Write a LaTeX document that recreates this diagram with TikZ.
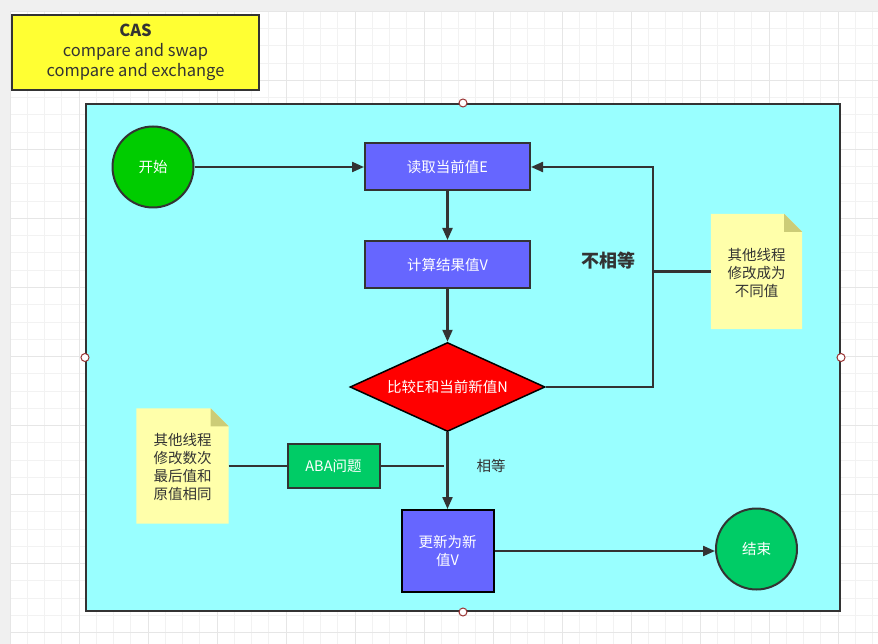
\documentclass[tikz,border=0pt]{standalone}
\usepackage{fontspec}
\setmainfont{Noto Sans CJK SC}
\usetikzlibrary{arrows.meta,shapes.geometric,calc}
\definecolor{outerbg}{HTML}{F0F0F0}
\definecolor{gridminor}{HTML}{F2F2F2}
\definecolor{gridmajor}{HTML}{E6E6E6}
\definecolor{edge}{HTML}{333333}
\definecolor{cyanbg}{HTML}{99FFFF}
\definecolor{bluebox}{HTML}{6666FF}
\definecolor{casyellow}{HTML}{FFFF33}
\definecolor{startgreen}{HTML}{00CC00}
\definecolor{abagreen}{HTML}{00CC66}
\definecolor{notefill}{HTML}{FFFFAA}
\definecolor{notefold}{HTML}{CCCC77}
\definecolor{handle}{HTML}{993333}
\begin{document}
\begin{tikzpicture}[x=1pt,y=-1pt,
  stepbox/.style={rectangle,draw=edge,line width=2pt,fill=bluebox,text=white,inner sep=0pt,font=\fontsize{14.5pt}{18pt}\selectfont,align=center},
  roundnode/.style={circle,draw=edge,line width=2pt,text=white,inner sep=0pt,minimum size=81pt,font=\fontsize{14.5pt}{18pt}\selectfont},
  notebox/.style={rectangle,inner sep=0pt,text=edge,align=center,font=\fontsize{14.5pt}{18pt}\selectfont},
  flow/.style={draw=edge,line width=2.2pt,-{Triangle[length=12pt,width=10pt]}},
  link/.style={draw=edge,line width=2.2pt},
  hdl/.style={circle,draw=handle,fill=white,line width=1pt,inner sep=0pt,minimum size=8pt}
]
\useasboundingbox (0,0) rectangle (878,644);
\fill[outerbg] (0,0) rectangle (878,644);
\fill[white] (10,12) rectangle (878,644);
\begin{scope}
\clip (10,12) rectangle (878,644);
\foreach \i in {0,...,50} {\draw[gridminor,line width=1pt] ({10+17.25*\i},12) -- ({10+17.25*\i},644);}
\foreach \j in {0,...,37} {\draw[gridminor,line width=1pt] (10,{11.5+17.25*\j}) -- (878,{11.5+17.25*\j});}
\foreach \i in {0,...,12} {\draw[gridmajor,line width=1pt] ({10+69*\i},12) -- ({10+69*\i},644);}
\foreach \j in {0,...,9} {\draw[gridmajor,line width=1pt] (10,{11.5+69*\j}) -- (878,{11.5+69*\j});}
\end{scope}

% CAS title box
\node[rectangle,draw=edge,line width=2pt,fill=casyellow,text=edge,minimum width=247pt,minimum height=75pt,inner sep=0pt,align=center,font=\fontsize{16.5pt}{20pt}\selectfont] (cas) at (135.5,52.5) {{\bfseries CAS}\\compare and swap\\compare and exchange};

% container
\node[rectangle,draw=edge,line width=2pt,fill=cyanbg,minimum width=754pt,minimum height=507pt,inner sep=0pt] (frame) at (463,357.5) {};
\node[hdl] (h1) at (frame.north) {};
\node[hdl] (h2) at (frame.south) {};
\node[hdl] (h3) at (frame.west) {};
\node[hdl] (h4) at (frame.east) {};

% nodes
\node[roundnode,fill=startgreen] (start) at (153,167) {开始};
\node[stepbox,minimum width=165pt,minimum height=47pt] (read) at (447.5,167) {读取当前值E};
\node[stepbox,minimum width=165pt,minimum height=47pt] (calc) at (447.5,264.5) {计算结果值V};
\node[diamond,aspect=2.19,draw=black,line width=1.5pt,fill=red,text=white,inner sep=0pt,minimum width=195pt,minimum height=89pt,font=\fontsize{14.5pt}{18pt}\selectfont] (cmp) at (447.5,387) {比较E和当前新值N};
\node[stepbox,draw=black,minimum width=92pt,minimum height=82pt] (upd) at (447.5,551) {更新为新\\值V};
\node[roundnode,fill=abagreen] (finish) at (756.5,549) {结束};
\node[rectangle,draw=edge,line width=2pt,fill=abagreen,text=white,inner sep=0pt,minimum width=92pt,minimum height=44pt,font=\fontsize{14.5pt}{18pt}\selectfont] (aba) at (333.5,466) {ABA问题};

% notes
\node[notebox,minimum width=91pt,minimum height=115pt] (note1) at (756.5,271.5) {};
\fill[notefill] (note1.north west) -- ($(note1.north east)+(-18,0)$) -- ($(note1.north east)+(0,18)$) -- (note1.south east) -- (note1.south west) -- cycle;
\fill[notefold] ($(note1.north east)+(-18,0)$) -- ($(note1.north east)+(0,18)$) -- ($(note1.north east)+(-18,18)$) -- cycle;
\node[notebox] (note1txt) at (756.5,273) {其他线程\\修改成为\\不同值};

\node[notebox,minimum width=92pt,minimum height=115pt] (note2) at (182.5,466) {};
\fill[notefill] (note2.north west) -- ($(note2.north east)+(-18,0)$) -- ($(note2.north east)+(0,18)$) -- (note2.south east) -- (note2.south west) -- cycle;
\fill[notefold] ($(note2.north east)+(-18,0)$) -- ($(note2.north east)+(0,18)$) -- ($(note2.north east)+(-18,18)$) -- cycle;
\node[notebox] (note2txt) at (182.5,467) {其他线程\\修改数次\\最后值和\\原值相同};

% labels
\node[text=edge,font=\bfseries\fontsize{18pt}{20pt}\selectfont] (neq) at (608,261) {不相等};
\node[text=edge,font=\fontsize{14.5pt}{18pt}\selectfont] (eq) at (491,466) {相等};

% connectors
\coordinate (corner) at (653,167);
\coordinate (abaend) at (444,466);
\draw[flow] (start) -- (read);
\draw[flow] (read) -- (calc);
\draw[flow] (calc) -- (cmp.north);
\draw[flow] (cmp.east) -| (corner) -- (read.east);
\draw[link] (note1.west) -- (note1.west -| corner);
\draw[flow] (cmp.south) -- (upd.north);
\draw[link] (note2.east) -- (aba.west);
\draw[link] (aba.east) -- (abaend);
\draw[flow] (upd.east) -- (upd.east -| finish.west);
\end{tikzpicture}
\end{document}
